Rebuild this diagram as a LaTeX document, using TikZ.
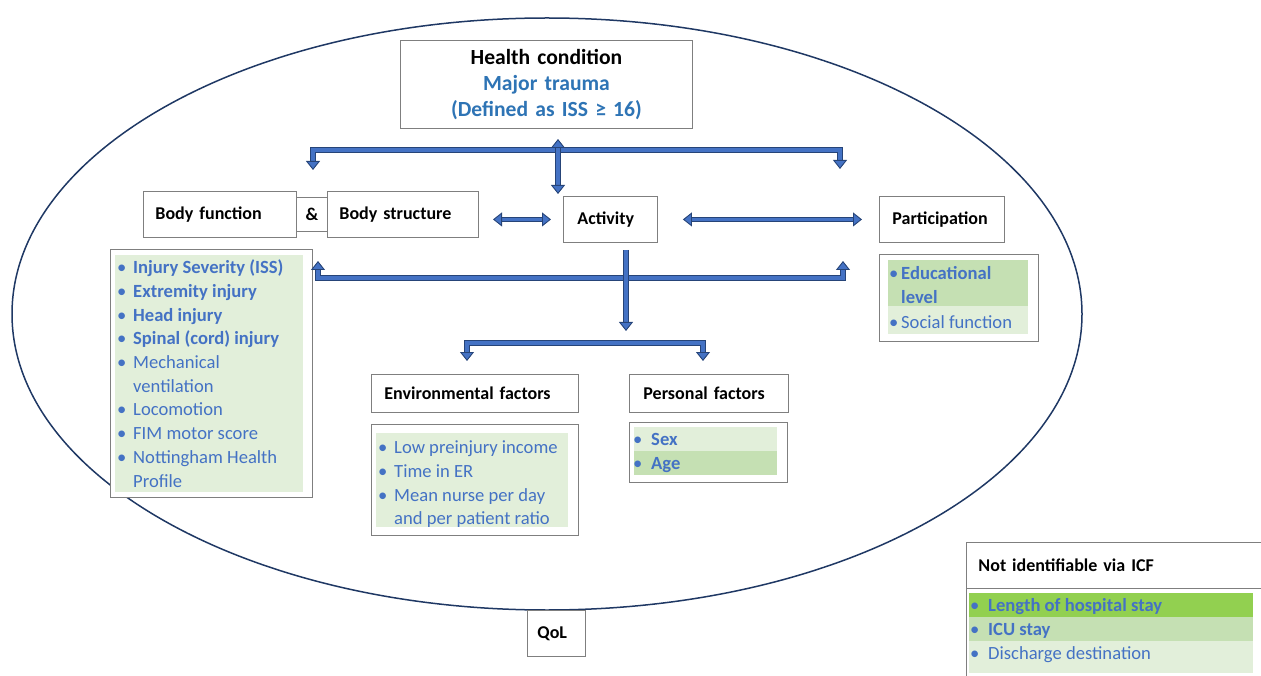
\documentclass[tikz,border=0pt]{standalone}
\usepackage{fontspec}
\setmainfont{Carlito}
\usetikzlibrary{arrows.meta,positioning}
\definecolor{icfBlue}{RGB}{46,116,181}
\definecolor{listBlue}{RGB}{68,114,196}
\definecolor{pipeBlue}{RGB}{68,114,196}
\definecolor{pipeEdge}{RGB}{38,68,120}
\definecolor{ringNavy}{RGB}{31,56,100}
\definecolor{boxGray}{RGB}{127,127,127}
\definecolor{greenLt}{RGB}{226,239,218}
\definecolor{greenMd}{RGB}{197,224,179}
\definecolor{greenHi}{RGB}{146,208,80}
\newcommand{\itm}[1]{\textbullet & #1\\}

\begin{document}
\begin{tikzpicture}[x=1pt,y=-1pt,
 box/.style={draw=boxGray,line width=.9pt,fill=white,anchor=north west,inner ysep=0pt,inner xsep=12pt,align=left,font=\bfseries\fontsize{18}{20}\selectfont},
 frame/.style={draw=boxGray,line width=.9pt,fill=white,anchor=north west,inner sep=0pt},
 list/.style={anchor=north west,inner sep=0pt,text=listBlue,font=\fontsize{18.6}{23.7}\selectfont},
 pipe/.style={draw=pipeEdge,double=pipeBlue,line width=.9pt,double distance=3.6pt},
 >={Triangle[length=9pt,width=14pt,fill=pipeBlue,line width=.9pt]}]
\path[use as bounding box] (0,0) rectangle (1261,676);
\draw[ringNavy,line width=1.5pt] (547,314) ellipse [x radius=535, y radius=296];
% top of the model
\node[box,align=center,inner xsep=0pt,text width=292pt,minimum height=88pt,font=\bfseries\fontsize{21.6}{26}\selectfont] (health) at (400,40)
 {Health condition\\\textcolor{icfBlue}{Major trauma}\\\textcolor{icfBlue}{(Defined as ISS ≥ 16)}};
\node[box,text width=129pt,minimum height=46pt] (bfun) at (143,191) {Body function};
\node[box,align=center,inner xsep=0pt,text width=31pt,minimum height=34pt] (amp) at (296,197) {\&};
\node[box,text width=127pt,minimum height=46pt] (bstr) at (327,191) {Body structure\\[4pt]};
\node[box,inner xsep=14pt,text width=66pt,minimum height=46pt] (act) at (563,196) {Activity\\[2pt]};
\node[box,inner xsep=13pt,text width=99pt,minimum height=46pt] (part) at (879,196) {Participation\\[2pt]};
\node[box,inner xsep=13pt,text width=181pt,minimum height=38pt] (env) at (371,374) {Environmental factors};
\node[box,inner xsep=14pt,text width=131pt,minimum height=38pt] (pers) at (629,374) {Personal factors\\[2pt]};
\node[box,inner xsep=10pt,text width=38pt,minimum height=46pt] (qol) at (527,610) {QoL};
\node[box,text width=280pt,minimum height=46pt] (nid) at (966,542) {Not identifiable via ICF\\[6pt]};
% lists
\node[frame,minimum width=202pt,minimum height=248pt] (bfList) at (110,249) {};
\fill[greenLt] (115,255) rectangle (303,492);
\node[list] (bfItems) at (117,257) {\begin{tabular}{@{}p{16pt}@{}l@{}}
\itm{\textbf{Injury Severity (ISS)}}
\itm{\textbf{Extremity injury}}
\itm{\textbf{Head injury}}
\itm{\textbf{Spinal (cord) injury}}
\itm{Mechanical}
& ventilation\\
\itm{Locomotion}
\itm{FIM motor score}
\itm{Nottingham Health}
& Profile
\end{tabular}};
\node[frame,minimum width=159pt,minimum height=87pt] (partList) at (879,254) {};
\fill[greenMd] (888,260) rectangle (1028,306);
\fill[greenLt] (888,306) rectangle (1028,334);
\node[list] (partItems) at (889,263) {\begin{tabular}{@{}p{12pt}@{}l@{}}
\itm{\textbf{Educational}}
& \textbf{level}\\[1pt]
\itm{Social function}
\end{tabular}};
\node[frame,minimum width=207pt,minimum height=111pt] (envList) at (371,424) {};
\fill[greenLt] (376,433) rectangle (568,527);
\node[list] (envItems) at (378,437) {\begin{tabular}{@{}p{16pt}@{}l@{}}
\itm{Low preinjury income}
\itm{Time in ER}
\itm{Mean nurse per day}
& and per patient ratio
\end{tabular}};
\node[frame,minimum width=158pt,minimum height=60pt] (persList) at (629,422) {};
\fill[greenLt] (634,427) rectangle (777,451);
\fill[greenMd] (634,451) rectangle (777,475);
\node[list] (persItems) at (633,429) {\begin{tabular}{@{}p{18pt}@{}l@{}}
\itm{\textbf{Sex}}
\itm{\textbf{Age}}
\end{tabular}};
\node[frame,minimum width=304pt,minimum height=92pt] (nidList) at (966,588) {};
\fill[greenHi] (969,593) rectangle (1253,617);
\fill[greenMd] (969,617) rectangle (1253,641);
\fill[greenLt] (969,641) rectangle (1253,673);
\node[list] (nidItems) at (970,595) {\begin{tabular}{@{}p{18pt}@{}l@{}}
\itm{\textbf{Length of hospital stay}}
\itm{\textbf{ICU stay}}
\itm{Discharge destination}
\end{tabular}};
% connectors
\coordinate (upHub) at (519,150);
\coordinate (upL) at (313,170);
\coordinate (upR) at (840,169);
\coordinate (hcTop) at (558,139);
\coordinate (hcBot) at (558,194);
\coordinate (lowHub) at (638,278);
\coordinate (lowL) at (318,261);
\coordinate (lowR) at (843,261);
\coordinate (actOut) at (626,250);
\coordinate (actIn) at (626,331);
\coordinate (forkHub) at (578,343);
\coordinate (forkL) at (467,361);
\coordinate (forkR) at (703,361);
\draw[pipe,->] (upHub) -| (upL);
\draw[pipe,->] (upHub) -| (upR);
\draw[pipe,<->] (hcTop) -- (hcBot);
\draw[pipe,<->] ([xshift=-70pt]act.west) -- ([xshift=-12pt]act.west);
\draw[pipe,<->] ([xshift=25pt]act.east) -- ([xshift=-17pt]part.west);
\draw[pipe,->] (lowHub) -| (lowL);
\draw[pipe,->] (lowHub) -| (lowR);
\draw[pipe,->] (actOut) -- (actIn);
\draw[pipe,->] (forkHub) -| (forkL);
\draw[pipe,->] (forkHub) -| (forkR);
\end{tikzpicture}
\end{document}
